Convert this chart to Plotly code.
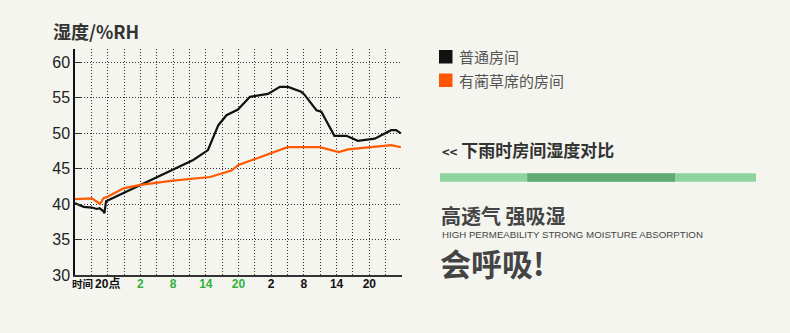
import plotly.graph_objects as go

# ---- data ----
series_names = ["普通房间", "有蔺草席的房间"]
series_colors = ["#111111", "#ff5a00"]

hours_normal = [0, 1.6, 3.1, 4.0, 4.5, 5.2, 5.4, 5.7, 21.7, 24.4, 26.3, 27.8, 29.9, 32.1,
                35.4, 37.6, 39.1, 41.5, 42.1, 44.3, 45.2, 47.6, 49.8, 51.9, 55.0, 58.0, 58.9, 59.8]
humidity_normal = [40.1, 39.6, 39.5, 39.3, 39.4, 39.0, 38.7, 40.4, 46.2, 47.6, 51.1, 52.5, 53.3, 55.1,
                   55.5, 56.5, 56.5, 55.8, 55.4, 53.2, 53.0, 49.6, 49.6, 48.9, 49.2, 50.4, 50.4, 49.95]

hours_mat = [0, 3.1, 4.6, 5.2, 5.9, 8.9, 12.0, 18.0, 24.8, 28.7, 30.0, 39.0, 44.9, 48.4, 50.1, 58.0, 59.8]
humidity_mat = [40.7, 40.8, 40.0, 40.8, 41.0, 42.2, 42.7, 43.3, 43.8, 44.7, 45.5, 48.0, 48.0, 47.3, 47.7, 48.3, 48.0]

x_tick_vals = [6, 12, 18, 24, 30, 36, 42, 48, 54]
x_tick_labels = ["20点", "2", "8", "14", "20", "2", "8", "14", "20"]
x_tick_green = [False, True, True, True, True, False, False, False, False]
x_minor_vals = [3, 9, 15, 21, 27, 33, 39, 45, 51, 57]
y_tick_vals = [30, 35, 40, 45, 50, 55, 60]

y_title = "湿度/%RH"
x_prefix = "时间"
caption = "<< 下雨时房间湿度对比"
headline = "高透气 强吸湿"
subline = "HIGH PERMEABILITY STRONG MOISTURE ABSORPTION"
slogan = "会呼吸!"

# ---- layout geometry ----
W, H = 790, 333
ML, MR, MT, MB = 75, 388, 49, 58
PW, PH = W - ML - MR, H - MT - MB
BG = "#f5f5f0"
CJK = "Noto Sans CJK SC"
LAT = "Liberation Sans, Arial, Noto Sans CJK SC"


def px(xp):
    return (xp - ML) / PW


def py(yp):
    return (H - MB - yp) / PH


fig = go.Figure()
fig.add_trace(go.Scatter(x=hours_normal, y=humidity_normal, mode="lines",
                         line=dict(color=series_colors[0], width=2.2), name=series_names[0],
                         showlegend=False))
fig.add_trace(go.Scatter(x=hours_mat, y=humidity_mat, mode="lines",
                         line=dict(color=series_colors[1], width=2.2), name=series_names[1],
                         showlegend=False))

ticktext = [f"<span style='color:#33b03a'>{t}</span>" if g else t
            for t, g in zip(x_tick_labels, x_tick_green)]

grid = dict(gridcolor="#333333", gridwidth=1, griddash="1px,2px")

fig.update_xaxes(range=[0, 60], tickmode="array", tickvals=x_tick_vals, ticktext=ticktext,
                 showgrid=True, **grid, showline=True, linecolor="#333333", linewidth=1.5,
                 ticks="", zeroline=False, ticklabelstandoff=-3,
                 tickfont=dict(family=LAT, size=12, color="#111111", weight="bold"),
                 minor=dict(tickmode="array", tickvals=x_minor_vals, showgrid=True, **grid))
fig.update_yaxes(range=[30, 30 + PH / 7.1], tickmode="array", tickvals=y_tick_vals,
                 showgrid=True, **grid, showline=True, linecolor="#111111", linewidth=1.5,
                 ticks="inside", ticklen=6, tickcolor="#333333", zeroline=False,
                 tickfont=dict(family=LAT, size=16, color="#222222"))

annotations = [
    dict(x=px(51), y=py(30.5), text=y_title, font=dict(family=CJK, size=18, color="#333333", weight="bold"),
         xanchor="left", yanchor="middle"),
    dict(x=px(95), y=py(283), text=x_prefix, font=dict(family=CJK, size=10.5, color="#111111", weight="bold"),
         xanchor="right", yanchor="middle"),
    dict(x=px(457), y=py(56.5), text=series_names[0], font=dict(family=CJK, size=15, color="#555555"),
         xanchor="left", yanchor="middle"),
    dict(x=px(457), y=py(80), text=series_names[1], font=dict(family=CJK, size=15, color="#555555"),
         xanchor="left", yanchor="middle"),
    dict(x=px(440), y=py(149.5), text="<span style='font-size:13px'>&lt;&lt;</span> " + caption[3:],
         font=dict(family=CJK, size=17, color="#333333", weight="bold"),
         xanchor="left", yanchor="middle"),
    dict(x=px(439), y=py(215), text=headline, font=dict(family=CJK, size=20, color="#444444", weight="bold"),
         xanchor="left", yanchor="middle"),
    dict(x=px(440), y=py(234), text=subline, font=dict(family=LAT, size=9.7, color="#444444"),
         xanchor="left", yanchor="middle"),
    dict(x=px(438), y=py(262), text=slogan, font=dict(family=CJK, size=31, color="#444444", weight="bold"),
         xanchor="left", yanchor="middle"),
]
for a in annotations:
    a.update(xref="paper", yref="paper", showarrow=False)

shapes = [
    dict(type="rect", x0=px(439), x1=px(452.5), y0=py(50), y1=py(63.5), fillcolor=series_colors[0], line_width=0),
    dict(type="rect", x0=px(439), x1=px(452.5), y0=py(73.5), y1=py(87), fillcolor="#ff5500", line_width=0),
    dict(type="rect", x0=px(440), x1=px(756), y0=py(173.3), y1=py(181.7), fillcolor="#8fd49e", line_width=0),
    dict(type="rect", x0=px(527.3), x1=px(675), y0=py(173.3), y1=py(181.7), fillcolor="#62ab74", line_width=0),
]
for s in shapes:
    s.update(xref="paper", yref="paper", layer="above")

fig.update_layout(width=W, height=H, margin=dict(l=ML, r=MR, t=MT, b=MB, pad=0),
                  paper_bgcolor=BG, plot_bgcolor=BG, annotations=annotations, shapes=shapes,
                  showlegend=False)

fig.write_html("out.html", config={"displayModeBar": False})
